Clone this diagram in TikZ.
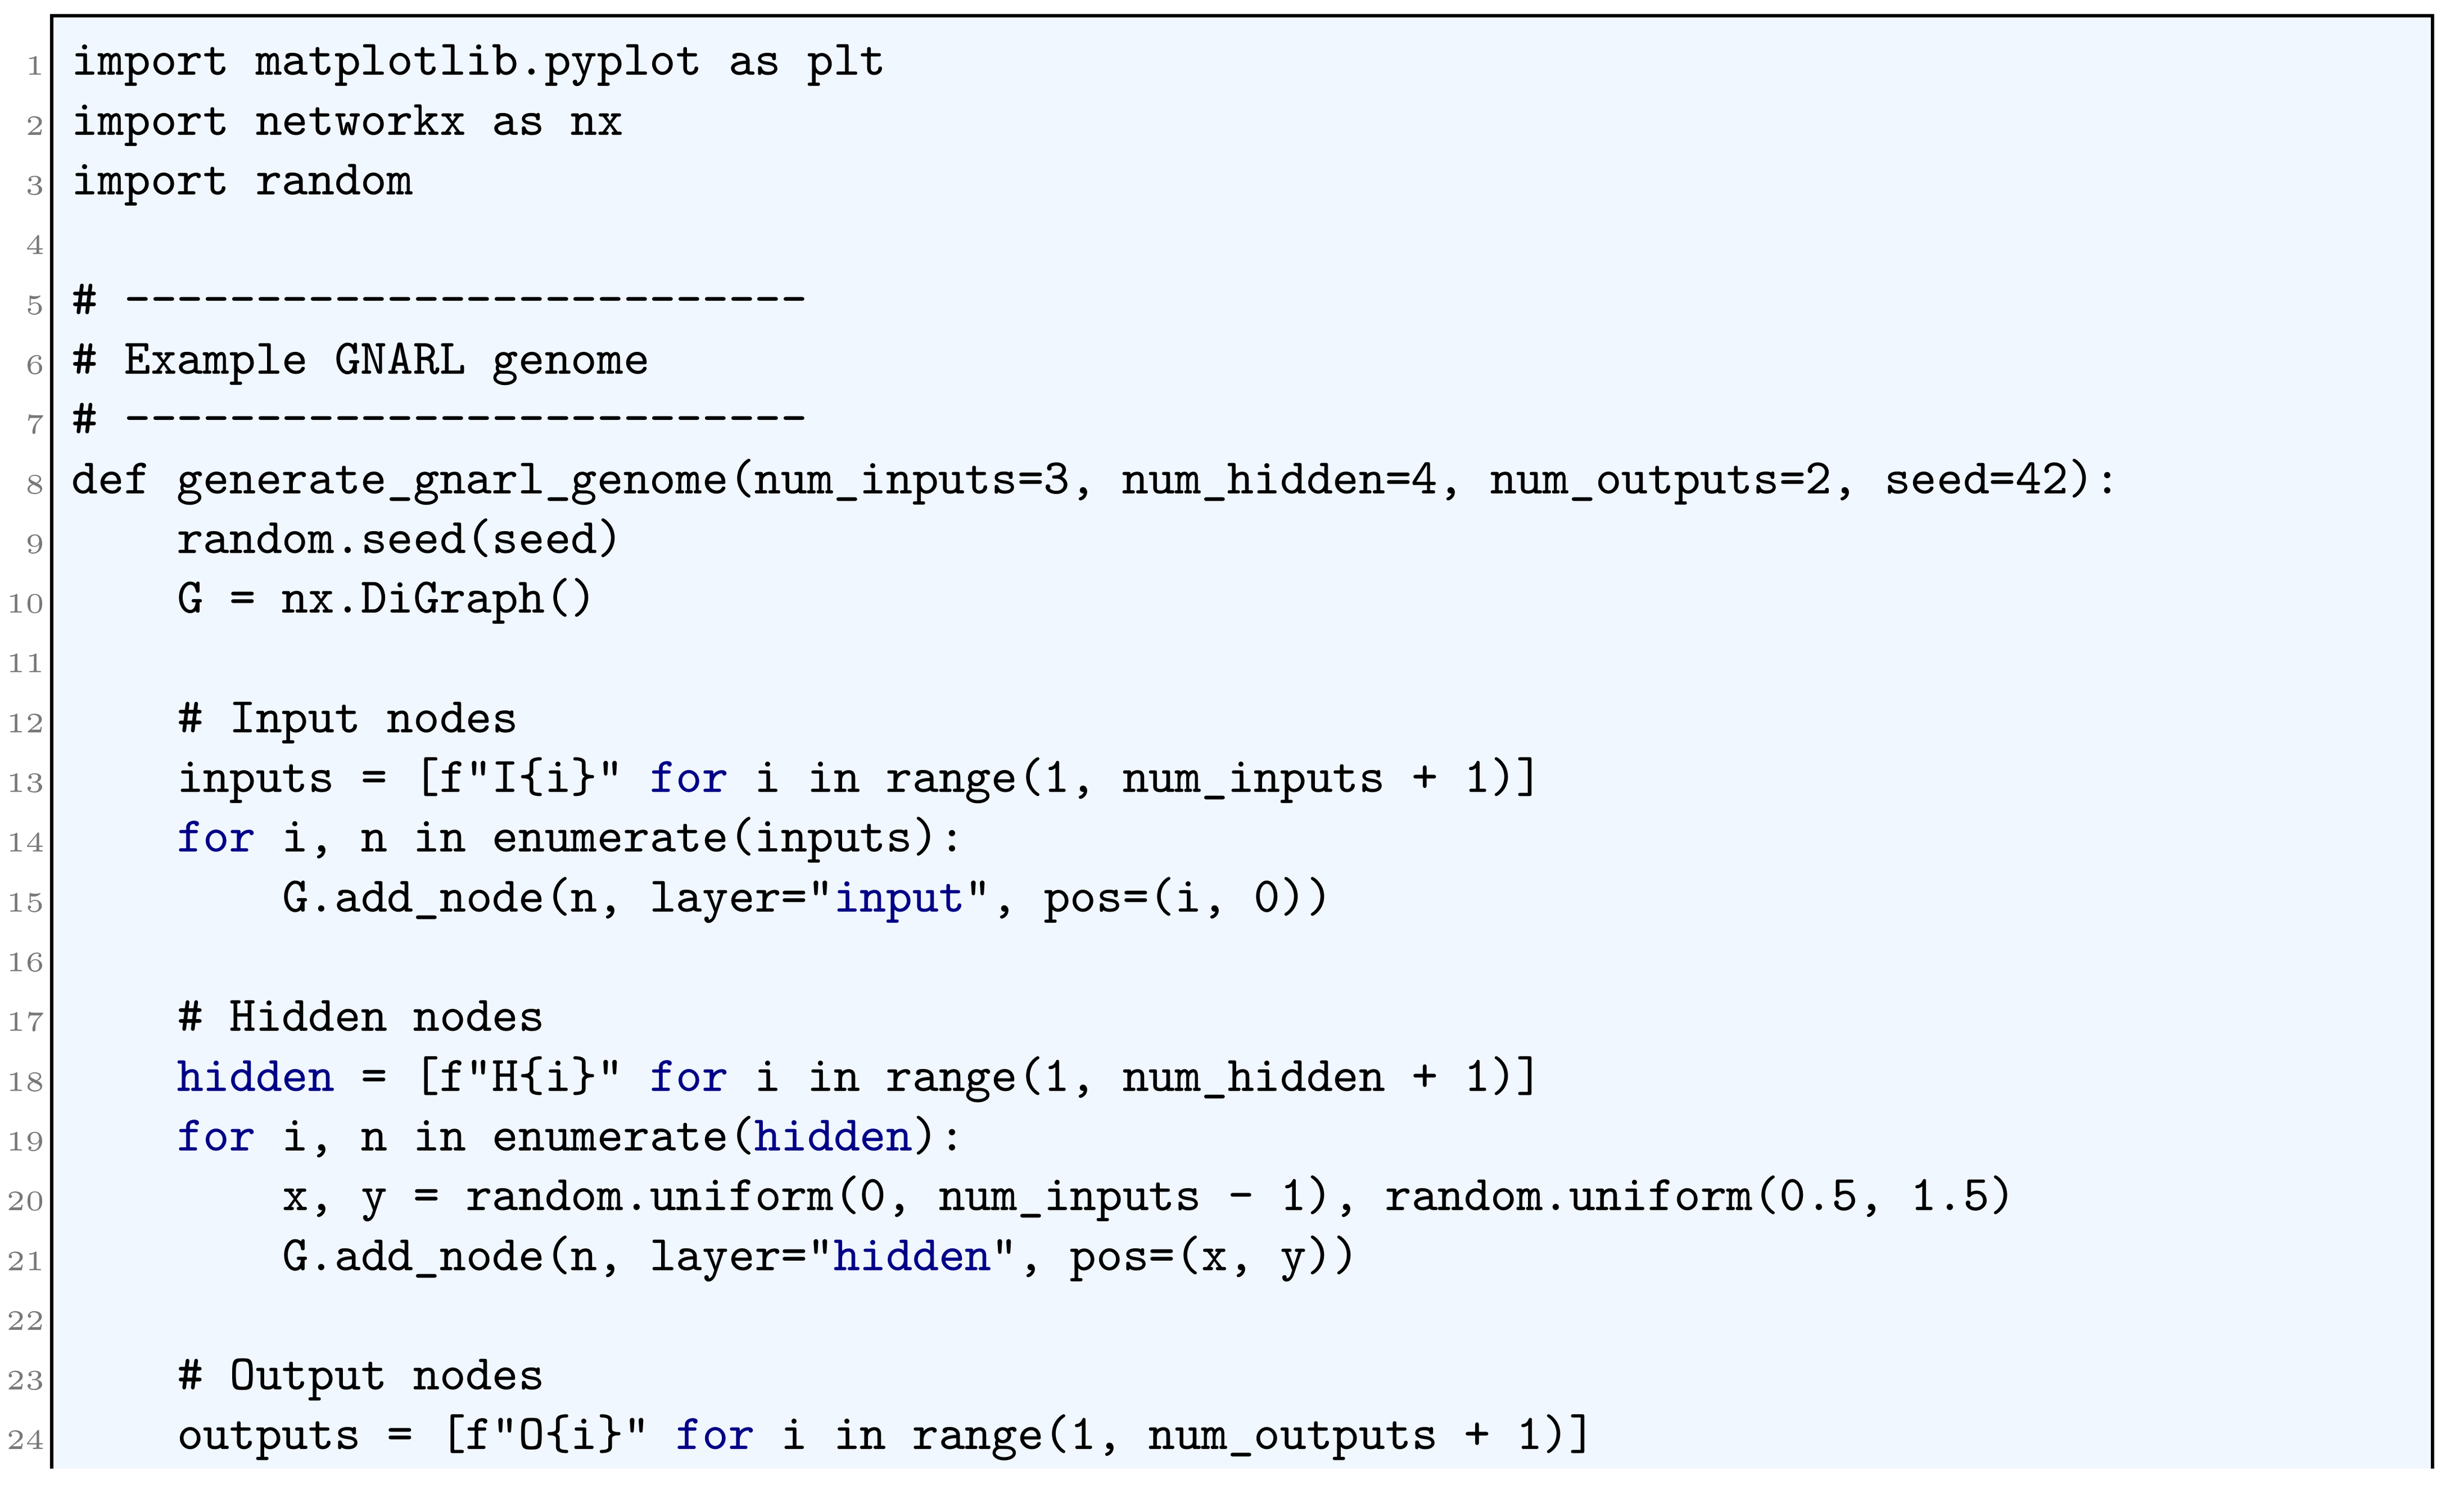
\documentclass[tikz,border=0pt]{standalone}
\usepackage{fontspec}
\definecolor{codebg}{RGB}{240,247,255}
\definecolor{kwblue}{RGB}{0,0,135}
\definecolor{numgray}{RGB}{120,120,120}
\newcommand{\kw}[1]{\textcolor{kwblue}{#1}}
\newcommand{\dashrow}{-{}-{}-{}-{}-{}-{}-{}-{}-{}-{}-{}-{}-{}-{}-{}-{}-{}-{}-{}-{}-{}-{}-{}-{}-{}-{}}
\tikzset{
  codeline/.style={anchor=base west, inner sep=0pt, font=\fontsize{8.9}{10}\ttfamily},
  lineno/.style={anchor=base east, inner sep=0pt, text=numgray, font=\fontsize{5}{6}\selectfont},
}
\begin{document}
\begin{tikzpicture}[x=1pt,y=1pt]
  \useasboundingbox (0,0) rectangle (438.3,265);
  % listing frame, open at the bottom
  \fill[codebg] (9.2,3.7) rectangle (432.7,262.2);
  \draw[line width=0.6pt] (9.2,3.7) -- (9.2,262.2) -- (432.7,262.2) -- (432.7,3.7);

  % line numbers
  \foreach \n in {1,...,24}
    \node[lineno] (n\n) at (8.2, 251.6-10.63*\n+10.63) {\n};

  \node[codeline] (l1)  at (12.6, 251.6-10.63*0)  {import matplotlib.pyplot as plt};
  \node[codeline] (l2)  at (12.6, 251.6-10.63*1)  {import networkx as nx};
  \node[codeline] (l3)  at (12.6, 251.6-10.63*2)  {import random};
  \node[codeline] (l5)  at (12.6, 251.6-10.63*4)  {\# \dashrow};
  \node[codeline] (l6)  at (12.6, 251.6-10.63*5)  {\# Example GNARL genome};
  \node[codeline] (l7)  at (12.6, 251.6-10.63*6)  {\# \dashrow};
  \node[codeline] (l8)  at (12.6, 251.6-10.63*7)  {def generate\_gnarl\_genome(num\_inputs=3, num\_hidden=4, num\_outputs=2, seed=42):};
  \node[codeline] (l9)  at (31.3, 251.6-10.63*8)  {random.seed(seed)};
  \node[codeline] (l10) at (31.3, 251.6-10.63*9)  {G = nx.DiGraph()};
  \node[codeline] (l12) at (31.3, 251.6-10.63*11) {\# Input nodes};
  \node[codeline] (l13) at (31.3, 251.6-10.63*12) {inputs = [f"I\{i\}" \kw{for} i in range(1, num\_inputs + 1)]};
  \node[codeline] (l14) at (31.3, 251.6-10.63*13) {\kw{for} i, n in enumerate(inputs):};
  \node[codeline] (l15) at (50.0, 251.6-10.63*14) {G.add\_node(n, layer="\kw{input}", pos=(i, 0))};
  \node[codeline] (l17) at (31.3, 251.6-10.63*16) {\# Hidden nodes};
  \node[codeline] (l18) at (31.3, 251.6-10.63*17) {\kw{hidden} = [f"H\{i\}" \kw{for} i in range(1, num\_hidden + 1)]};
  \node[codeline] (l19) at (31.3, 251.6-10.63*18) {\kw{for} i, n in enumerate(\kw{hidden}):};
  \node[codeline] (l20) at (50.0, 251.6-10.63*19) {x, y = random.uniform(0, num\_inputs - 1), random.uniform(0.5, 1.5)};
  \node[codeline] (l21) at (50.0, 251.6-10.63*20) {G.add\_node(n, layer="\kw{hidden}", pos=(x, y))};
  \node[codeline] (l23) at (31.3, 251.6-10.63*22) {\# Output nodes};
  \node[codeline] (l24) at (31.3, 251.6-10.63*23) {outputs = [f"O\{i\}" \kw{for} i in range(1, num\_outputs + 1)]};
\end{tikzpicture}
\end{document}
